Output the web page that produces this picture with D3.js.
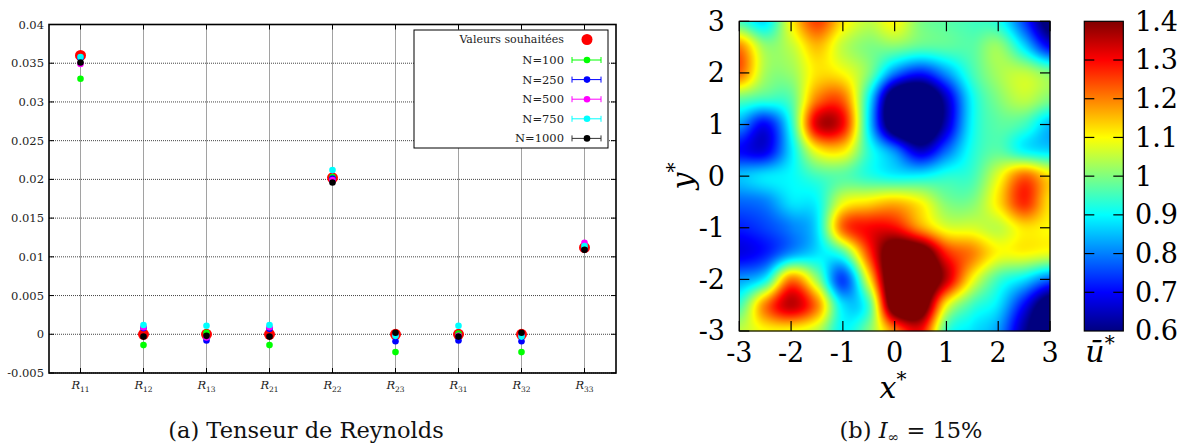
<!DOCTYPE html>
<html>
<head>
<meta charset="utf-8">
<script src="https://cdn.jsdelivr.net/npm/d3@7"></script>
<style>
  body { margin: 0; background: #fff; }
  svg text { font-family: "DejaVu Serif", "Liberation Serif", serif; }
</style>
</head>
<body>
<svg id="fig" width="1194" height="448"></svg>
<script>
// --- (a) Reynolds tensor components ---
const categories = ['11', '12', '13', '21', '22', '23', '31', '32', '33'];
const target = [0.0360, 0, 0, 0, 0.0202, 0, 0, 0, 0.0112];
const n100  = [0.0330, -0.0014, 0.0002, -0.0014, 0.0203, -0.0023, 0.0001, -0.0023, 0.0112];
const n250  = [0.0357, 0.0008, -0.0008, 0.0007, 0.0201, -0.0009, -0.0008, -0.0009, 0.0110];
const n500  = [0.0349, 0.0009, -0.0004, 0.0009, 0.0199, -0.0001, -0.0002, -0.0001, 0.0118];
const n750  = [0.0358, 0.0012, 0.0011, 0.0012, 0.0212, -0.0002, 0.0011, -0.0003, 0.0114];
const n1000 = [0.0351, -0.0003, -0.0002, -0.0003, 0.0196, 0.0002, -0.0003, 0.0002, 0.0109];
const seriesNames = ['N=100', 'N=250', 'N=500', 'N=750', 'N=1000'];
const yTicksA = [-0.005, 0, 0.005, 0.01, 0.015, 0.02, 0.025, 0.03, 0.035, 0.04];

// --- (b) mean velocity field, rows from y=3 down to y=-3 ---
const gridX = [-3, -2.5, -2, -1.5, -1, -0.5, 0, 0.5, 1, 1.5, 2, 2.5, 3];
const gridY = [3, 2.5, 2, 1.5, 1, 0.5, 0, -0.5, -1, -1.5, -2, -2.5, -3];
const uField = [
  [0.95, 0.88, 1.10, 1.25, 1.12, 1.05, 1.10, 1.00, 0.97, 0.95, 0.92, 0.75, 0.55],
  [1.20, 1.02, 1.05, 1.15, 1.05, 1.00, 1.00, 0.97, 0.97, 0.97, 1.02, 0.88, 0.70],
  [1.22, 1.03, 1.02, 1.12, 1.10, 1.00, 0.80, 0.72, 0.82, 0.95, 1.03, 1.05, 1.00],
  [0.98, 0.95, 0.97, 1.20, 1.22, 0.90, 0.50, 0.45, 0.65, 0.90, 1.00, 1.05, 1.00],
  [0.82, 0.70, 0.92, 1.33, 1.30, 0.88, 0.50, 0.45, 0.65, 0.90, 0.97, 0.95, 0.85],
  [0.70, 0.68, 0.88, 1.10, 1.12, 0.93, 0.80, 0.65, 0.78, 0.92, 0.97, 0.90, 0.87],
  [0.85, 0.88, 0.90, 0.95, 0.97, 0.93, 0.90, 0.90, 0.93, 0.95, 1.08, 1.22, 1.12],
  [0.78, 0.80, 0.88, 0.90, 1.08, 1.12, 1.15, 1.10, 1.00, 1.00, 1.12, 1.27, 1.12],
  [0.72, 0.75, 0.80, 0.88, 1.22, 1.30, 1.30, 1.18, 1.08, 1.07, 1.05, 1.12, 1.10],
  [0.68, 0.72, 0.82, 0.88, 0.95, 1.25, 1.50, 1.50, 1.28, 1.20, 1.10, 1.10, 1.08],
  [0.82, 0.90, 1.20, 1.02, 0.75, 1.10, 1.55, 1.55, 1.35, 1.10, 0.95, 0.88, 0.78],
  [0.95, 1.20, 1.35, 1.20, 0.88, 0.95, 1.50, 1.50, 1.10, 0.95, 0.88, 0.70, 0.52],
  [1.05, 1.10, 1.10, 1.05, 0.90, 1.00, 1.20, 1.30, 0.95, 0.88, 0.82, 0.62, 0.50]
];
const axisTicksB = [-3, -2, -1, 0, 1, 2, 3];
const colorTicks = [0.6, 0.7, 0.8, 0.9, 1, 1.1, 1.2, 1.3, 1.4];

const svg = d3.select('#fig');

/* ---------------- panel (a) ---------------- */
const ax = { left: 49, right: 616, top: 24.5, bottom: 373 };
const x = d3.scalePoint().domain(categories).range([ax.left, ax.right]).padding(0.5);
const y = d3.scaleLinear().domain([-0.005, 0.04]).range([ax.bottom, ax.top]);

const ga = svg.append('g').attr('class', 'panel-a');

// grid
ga.append('g').selectAll('line').data(yTicksA).enter().append('line')
  .attr('x1', ax.left).attr('x2', ax.right)
  .attr('y1', d => y(d)).attr('y2', d => y(d))
  .attr('stroke', '#444').attr('stroke-width', 1).attr('stroke-dasharray', '1,1');
ga.append('g').selectAll('line').data(categories).enter().append('line')
  .attr('x1', d => x(d)).attr('x2', d => x(d))
  .attr('y1', ax.top).attr('y2', ax.bottom)
  .attr('stroke', '#444').attr('stroke-width', 1).attr('stroke-dasharray', '1,1');

// mirrored inward ticks
const tk = 5;
yTicksA.forEach(v => {
  ga.append('line').attr('x1', ax.left).attr('x2', ax.left + tk).attr('y1', y(v)).attr('y2', y(v)).attr('stroke', '#000');
  ga.append('line').attr('x1', ax.right - tk).attr('x2', ax.right).attr('y1', y(v)).attr('y2', y(v)).attr('stroke', '#000');
});
categories.forEach(c => {
  ga.append('line').attr('x1', x(c)).attr('x2', x(c)).attr('y1', ax.bottom).attr('y2', ax.bottom - tk).attr('stroke', '#000');
  ga.append('line').attr('x1', x(c)).attr('x2', x(c)).attr('y1', ax.top).attr('y2', ax.top + tk).attr('stroke', '#000');
});

// y tick labels
ga.append('g').selectAll('text').data(yTicksA).enter().append('text')
  .attr('x', ax.left - 5).attr('y', d => y(d)).attr('dy', '0.35em')
  .attr('text-anchor', 'end').attr('font-size', 11.5).attr('fill', '#222')
  .text(d => d === 0 ? '0' : String(+d.toFixed(3)));

// x tick labels R_ij
const xl = ga.append('g').selectAll('text').data(categories).enter().append('text')
  .attr('x', d => x(d)).attr('y', 389).attr('text-anchor', 'middle')
  .attr('font-size', 11.5).attr('fill', '#222');
xl.append('tspan').attr('font-style', 'italic').text('R');
xl.append('tspan').attr('font-size', 7.5).attr('dy', 2.5).text(d => d);

// frame
ga.append('rect').attr('x', ax.left).attr('y', ax.top)
  .attr('width', ax.right - ax.left).attr('height', ax.bottom - ax.top)
  .attr('fill', 'none').attr('stroke', '#000').attr('stroke-width', 1.6);

// points
const colors = ['#00ff00', '#0000ff', '#ff00ff', '#00ffff', '#000000'];
const series = [n100, n250, n500, n750, n1000];
ga.append('g').selectAll('circle').data(target).enter().append('circle')
  .attr('cx', (d, i) => x(categories[i])).attr('cy', d => y(d))
  .attr('r', 5.5).attr('fill', '#ff0000');
series.forEach((s, k) => {
  ga.append('g').selectAll('circle').data(s).enter().append('circle')
    .attr('cx', (d, i) => x(categories[i])).attr('cy', d => y(d))
    .attr('r', 3.3).attr('fill', colors[k]);
});

// legend
const lg = ga.append('g');
lg.append('rect').attr('x', 414).attr('y', 30).attr('width', 194).attr('height', 118)
  .attr('fill', '#fff').attr('stroke', '#000').attr('stroke-width', 1);
lg.append('text').attr('x', 564).attr('y', 39.5).attr('dy', '0.35em').attr('text-anchor', 'end')
  .attr('font-size', 11).attr('fill', '#222').text('Valeurs souhaitées');
lg.append('circle').attr('cx', 587).attr('cy', 39.5).attr('r', 5.5).attr('fill', '#ff0000');
seriesNames.forEach((name, k) => {
  const cy = 60 + k * 19.6;
  lg.append('text').attr('x', 564).attr('y', cy).attr('dy', '0.35em').attr('text-anchor', 'end')
    .attr('font-size', 11.5).attr('fill', '#222').text(name);
  const c = k === 4 ? '#333' : colors[k];
  lg.append('line').attr('x1', 572).attr('x2', 601).attr('y1', cy).attr('y2', cy).attr('stroke', c).attr('stroke-width', 1);
  lg.append('line').attr('x1', 572).attr('x2', 572).attr('y1', cy - 3).attr('y2', cy + 3).attr('stroke', c);
  lg.append('line').attr('x1', 601).attr('x2', 601).attr('y1', cy - 3).attr('y2', cy + 3).attr('stroke', c);
  lg.append('circle').attr('cx', 587).attr('cy', cy).attr('r', 3.3).attr('fill', colors[k]);
});

ga.append('text').attr('x', 306).attr('y', 438).attr('text-anchor', 'middle')
  .attr('font-size', 22.5).attr('fill', '#111').text('(a) Tenseur de Reynolds');

/* ---------------- panel (b) ---------------- */
const bx = { left: 739.3, right: 1050, top: 21.3, bottom: 331 };
const xs = d3.scaleLinear().domain([-3, 3]).range([bx.left, bx.right]);
const ys = d3.scaleLinear().domain([-3, 3]).range([bx.bottom, bx.top]);
const jet = d3.scaleLinear()
  .domain([0.6, 0.7, 0.9, 1.1, 1.3, 1.4])
  .range(['#000080', '#0000ff', '#00ffff', '#ffff00', '#ff0000', '#800000'])
  .clamp(true);

// smooth (Catmull-Rom) lookup in the grid
function cr(p0, p1, p2, p3, t) {
  return 0.5 * (2 * p1 + (-p0 + p2) * t + (2 * p0 - 5 * p1 + 4 * p2 - p3) * t * t + (-p0 + 3 * p1 - 3 * p2 + p3) * t * t * t);
}
const nx = gridX.length, ny = gridY.length;
const at = (j, i) => uField[Math.max(0, Math.min(ny - 1, j))][Math.max(0, Math.min(nx - 1, i))];
function sample(xv, yv) {
  const fx = (xv - gridX[0]) / 0.5, fy = (gridY[0] - yv) / 0.5;
  const i = Math.max(0, Math.min(nx - 2, Math.floor(fx)));
  const j = Math.max(0, Math.min(ny - 2, Math.floor(fy)));
  const tx = Math.max(0, Math.min(1, fx - i)), ty = Math.max(0, Math.min(1, fy - j));
  const rows = [-1, 0, 1, 2].map(dj => cr(at(j + dj, i - 1), at(j + dj, i), at(j + dj, i + 1), at(j + dj, i + 2), tx));
  return cr(rows[0], rows[1], rows[2], rows[3], ty);
}

const W = Math.round(bx.right - bx.left), H = Math.round(bx.bottom - bx.top);
const cv = document.createElement('canvas');
cv.width = W; cv.height = H;
const ctx = cv.getContext('2d');
const img = ctx.createImageData(W, H);
for (let j = 0; j < H; j++) {
  for (let i = 0; i < W; i++) {
    const v = sample(xs.invert(bx.left + i + 0.5), ys.invert(bx.top + j + 0.5));
    const col = d3.rgb(jet(v));
    const p = (j * W + i) * 4;
    img.data[p] = col.r; img.data[p + 1] = col.g; img.data[p + 2] = col.b; img.data[p + 3] = 255;
  }
}
ctx.putImageData(img, 0, 0);

const gb = svg.append('g').attr('class', 'panel-b');
gb.append('image').attr('x', bx.left).attr('y', bx.top).attr('width', W).attr('height', H)
  .attr('preserveAspectRatio', 'none').attr('href', cv.toDataURL());

const tl = 10;
axisTicksB.forEach(v => {
  gb.append('line').attr('x1', xs(v)).attr('x2', xs(v)).attr('y1', bx.bottom).attr('y2', bx.bottom - tl).attr('stroke', '#000').attr('stroke-width', 1.2);
  gb.append('line').attr('x1', xs(v)).attr('x2', xs(v)).attr('y1', bx.top).attr('y2', bx.top + tl).attr('stroke', '#000').attr('stroke-width', 1.2);
  gb.append('line').attr('x1', bx.left).attr('x2', bx.left + tl).attr('y1', ys(v)).attr('y2', ys(v)).attr('stroke', '#000').attr('stroke-width', 1.2);
  gb.append('line').attr('x1', bx.right - tl).attr('x2', bx.right).attr('y1', ys(v)).attr('y2', ys(v)).attr('stroke', '#000').attr('stroke-width', 1.2);
});
gb.append('rect').attr('x', bx.left).attr('y', bx.top).attr('width', bx.right - bx.left).attr('height', bx.bottom - bx.top)
  .attr('fill', 'none').attr('stroke', '#000').attr('stroke-width', 1.2);

gb.append('g').selectAll('text').data(axisTicksB).enter().append('text')
  .attr('x', d => xs(d)).attr('y', 362).attr('text-anchor', 'middle')
  .attr('font-size', 27).attr('fill', '#000').text(d => String(d));
gb.append('g').selectAll('text').data(axisTicksB).enter().append('text')
  .attr('x', 725).attr('y', d => ys(d)).attr('dy', '0.35em').attr('text-anchor', 'end')
  .attr('font-size', 27).attr('fill', '#000').text(d => String(d));

const xlab = gb.append('text').attr('x', 893).attr('y', 398).attr('text-anchor', 'middle').attr('font-size', 30);
xlab.append('tspan').attr('font-style', 'italic').text('x');
xlab.append('tspan').attr('font-size', 20).attr('dy', -12).text('*');
const ylab = gb.append('text').attr('transform', 'translate(693,176) rotate(-90)').attr('text-anchor', 'middle').attr('font-size', 30);
ylab.append('tspan').attr('font-style', 'italic').text('y');
ylab.append('tspan').attr('font-size', 20).attr('dy', -12).text('*');

// colour bar
const cb = { left: 1084.3, right: 1123.3 };
const cs = d3.scaleLinear().domain([0.6, 1.4]).range([bx.bottom, bx.top]);
const defs = svg.append('defs');
const grad = defs.append('linearGradient').attr('id', 'jetgrad')
  .attr('x1', 0).attr('y1', 1).attr('x2', 0).attr('y2', 0);
jet.domain().forEach((v, i) => {
  grad.append('stop').attr('offset', (v - 0.6) / 0.8).attr('stop-color', jet.range()[i]);
});
gb.append('rect').attr('x', cb.left).attr('y', bx.top).attr('width', cb.right - cb.left).attr('height', bx.bottom - bx.top)
  .attr('fill', 'url(#jetgrad)').attr('stroke', '#000').attr('stroke-width', 1.2);
colorTicks.slice(1, -1).forEach(v => {
  gb.append('line').attr('x1', cb.left).attr('x2', cb.left + tl).attr('y1', cs(v)).attr('y2', cs(v)).attr('stroke', '#000').attr('stroke-width', 1.2);
  gb.append('line').attr('x1', cb.right - tl).attr('x2', cb.right).attr('y1', cs(v)).attr('y2', cs(v)).attr('stroke', '#000').attr('stroke-width', 1.2);
});
gb.append('g').selectAll('text').data(colorTicks).enter().append('text')
  .attr('x', 1135).attr('y', d => cs(d)).attr('dy', '0.35em')
  .attr('font-size', 27).attr('fill', '#000').text(d => String(d));
const ulab = gb.append('text').attr('x', 1100).attr('y', 362).attr('text-anchor', 'middle').attr('font-size', 30);
ulab.append('tspan').attr('font-style', 'italic').text('ū');
ulab.append('tspan').attr('font-size', 20).attr('dy', -12).text('*');

const cap = gb.append('text').attr('x', 911).attr('y', 438).attr('text-anchor', 'middle').attr('font-size', 22.5).attr('fill', '#111');
cap.append('tspan').text('(b) ');
cap.append('tspan').attr('font-style', 'italic').text('I');
cap.append('tspan').attr('font-size', 14).attr('dy', 4).text('∞');
cap.append('tspan').attr('dy', -4).text(' = 15%');
</script>
</body>
</html>
